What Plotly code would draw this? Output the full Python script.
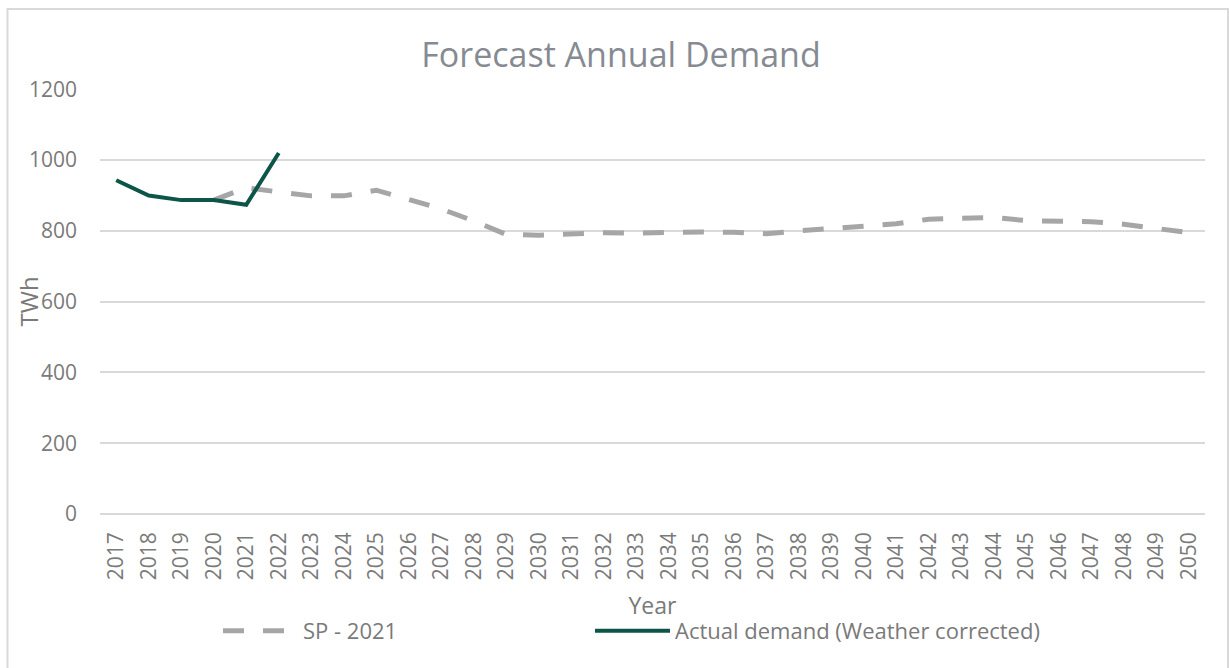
import plotly.graph_objects as go

# Annual demand, TWh
years = [str(y) for y in range(2017, 2051)]

sp_2021 = [None, None, None, 887, 922, 910, 899, 899, 915, 889, 862, 828,
           790, 788, 793, 795, 794, 796, 797, 796, 792, 800, 806, 811,
           820, 833, 836, 838, 829, 828, 826, 819, 808, 795]

actual_demand = [943, 900, 887, 887, 874, 1020] + [None] * 28

y_ticks = [0, 200, 400, 600, 800, 1000, 1200]

GREY_TEXT = "#7a7a7a"
GRID = "#d9d9d9"
SP_COLOR = "#a6a6a6"
ACTUAL_COLOR = "#0c5548"
FONT = "Open Sans"

W, H = 1229, 668
L, R, T, B = 100, 24, 89, 154
pw, ph = W - L - R, H - T - B


def px_x(px):
    """Horizontal pixel position -> paper coordinate."""
    return (px - L) / pw


def px_y(py):
    """Vertical pixel position (from top) -> paper coordinate."""
    return (H - B - py) / ph


fig = go.Figure()

fig.add_trace(go.Scatter(
    x=years, y=sp_2021, mode="lines", name="SP - 2021",
    line=dict(color=SP_COLOR, width=5, dash="21px,19px"),
    connectgaps=False, legend="legend",
))
fig.add_trace(go.Scatter(
    x=years, y=actual_demand, mode="lines",
    name="Actual demand (Weather corrected)",
    line=dict(color=ACTUAL_COLOR, width=4), legend="legend2",
))

legend_common = dict(
    orientation="h", yanchor="middle", y=px_y(631),
    xanchor="left", itemwidth=75,
    font=dict(size=22, color=GREY_TEXT),
    bgcolor="rgba(0,0,0,0)",
)

fig.update_layout(
    width=W, height=H,
    margin=dict(l=L, r=R, t=T, b=B),
    paper_bgcolor="white", plot_bgcolor="white",
    font=dict(family=FONT, color=GREY_TEXT, size=21),
    title=dict(
        text="Forecast Annual Demand",
        font=dict(family=FONT, size=34, color="#868a92"),
        x=621 / W, xref="container", xanchor="center",
        y=1 - 55 / H, yref="container", yanchor="middle",
    ),
    legend=dict(x=px_x(218), **legend_common),
    legend2=dict(x=px_x(590), **legend_common),
    showlegend=True,
)

fig.update_xaxes(
    type="category",
    range=[-0.5, len(years) - 0.5],
    tickangle=-90,
    ticks="",
    ticklabelstandoff=13,
    showgrid=False,
    showline=False,
    tickfont=dict(size=21, color=GREY_TEXT),
    title=dict(text="Year", font=dict(size=23, color=GREY_TEXT), standoff=18),
)

fig.update_yaxes(
    range=[0, 1201],
    tickvals=y_ticks,
    ticks="",
    ticklabelstandoff=22,
    showgrid=True, gridcolor=GRID, gridwidth=1.5,
    zeroline=True, zerolinecolor=GRID, zerolinewidth=1.5,
    showline=False,
    tickfont=dict(size=21, color=GREY_TEXT),
)

# Y-axis title, placed close to the tick labels
fig.add_annotation(
    text="TWh", textangle=-90,
    xref="paper", yref="paper", x=px_x(28), y=0.5,
    xanchor="center", yanchor="middle", showarrow=False,
    font=dict(size=24, color=GREY_TEXT),
)

# Thin frame around the whole chart
fig.add_shape(
    type="rect", xref="paper", yref="paper",
    x0=px_x(7.5), x1=px_x(1228),
    y0=px_y(H + 5), y1=px_y(9),
    line=dict(color=GRID, width=2), fillcolor="rgba(0,0,0,0)",
    layer="below",
)

fig.write_html("out.html")
